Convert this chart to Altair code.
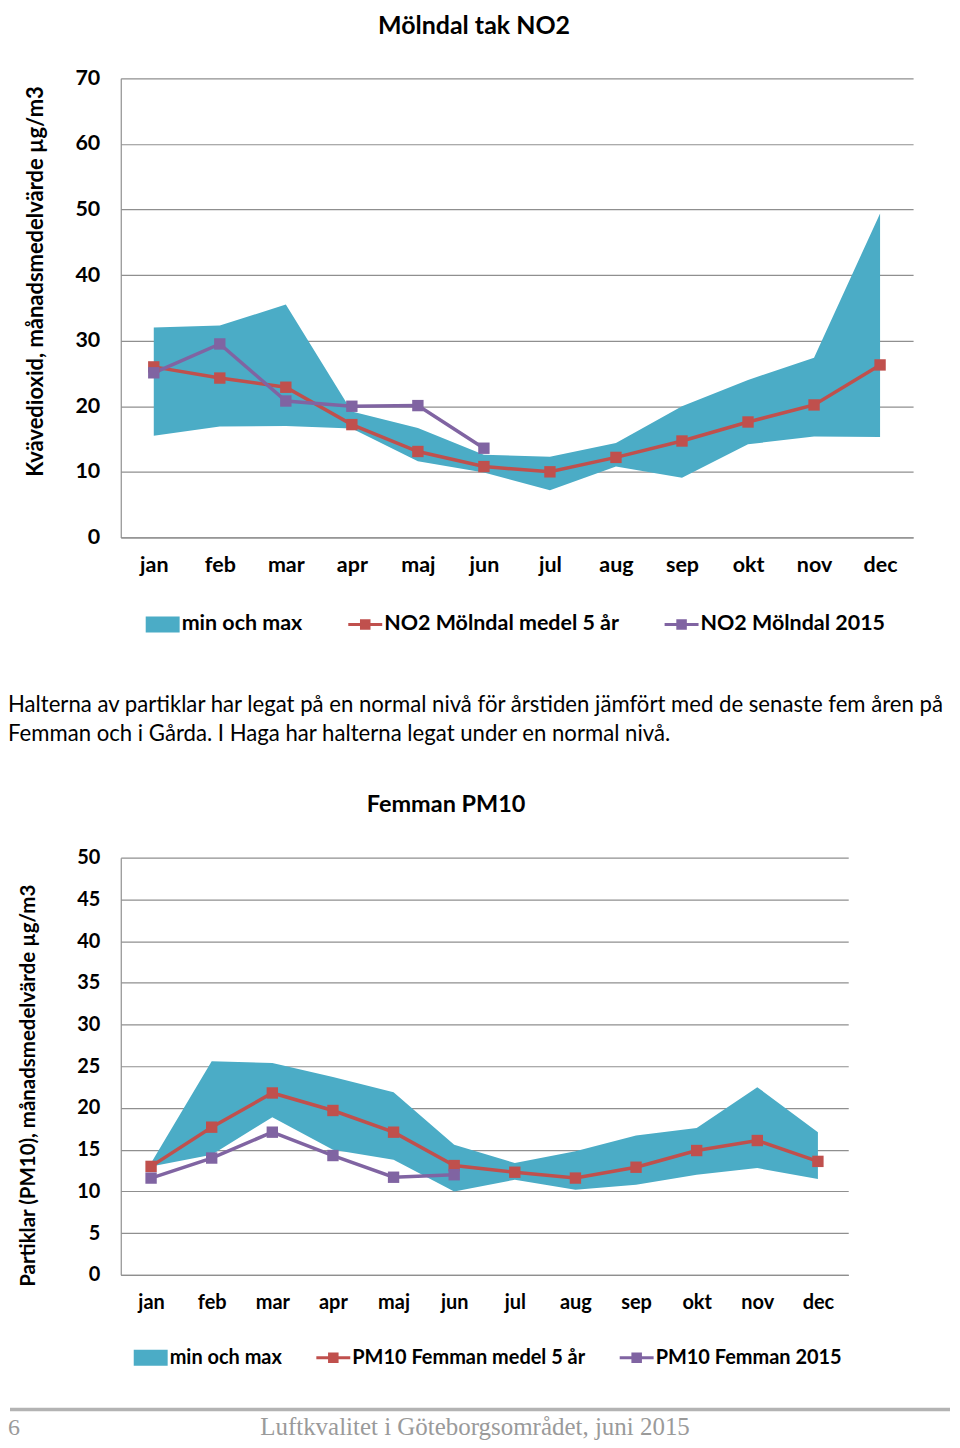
import altair as alt
import pandas as pd

months = ["jan", "feb", "mar", "apr", "maj", "jun", "jul", "aug", "sep", "okt", "nov", "dec"]

# Mölndal tak NO2
no2_min = [15.5, 16.9, 17.0, 16.6, 11.6, 9.9, 7.2, 10.8, 9.1, 14.2, 15.4, 15.3]
no2_max = [32.0, 32.3, 35.5, 19.2, 16.7, 12.6, 12.3, 14.4, 20.0, 24.0, 27.4, 49.4]
no2_mean = [26.0, 24.3, 22.9, 17.2, 13.1, 10.8, 10.0, 12.2, 14.7, 17.6, 20.2, 26.3]
no2_2015 = [25.1, 29.5, 20.8, 20.0, 20.1, 13.6]

# Femman PM10
pm_min = [13.0, 14.4, 18.9, 15.0, 13.8, 10.0, 11.4, 10.2, 10.8, 12.0, 12.8, 11.5]
pm_max = [13.4, 25.6, 25.4, 23.7, 21.9, 15.6, 13.4, 14.8, 16.7, 17.6, 22.5, 17.1]
pm_mean = [13.0, 17.7, 21.8, 19.7, 17.1, 13.1, 12.3, 11.6, 12.9, 14.9, 16.1, 13.6]
pm_2015 = [11.6, 14.0, 17.1, 14.3, 11.7, 12.0]

no2_names = ["min och max", "NO2 Mölndal medel 5 år", "NO2 Mölndal 2015"]
pm_names = ["min och max", "PM10 Femman medel 5 år", "PM10 Femman 2015"]

paragraph = [
    "Halterna av partiklar har legat på en normal nivå för årstiden jämfört med de senaste fem åren på",
    "Femman och i Gårda. I Haga har halterna legat under en normal nivå.",
]
footer_page = "6"
footer_text = "Luftkvalitet i Göteborgsområdet, juni 2015"

TEAL = "#4bacc6"
RED = "#c0504d"
PURPLE = "#8064a2"
GRID = "#8f8f8f"
SANS = "Lato"

AREA_SYM = "M-1,-0.47H1V0.47H-1Z"
LINE_SYM = "M-1,-0.09H1V0.09H-1Z M-0.31,-0.31H0.31V0.31H-0.31Z"


def panel(title, ytitle, mins, maxs, mean, y2015, names, ymax, ystep,
          width, height, fs, tfs, yfs, title_x, title_y, ytitle_x, ytitle_y,
          leg_x, leg_y, leg_pad, xlab_pad):
    area_df = pd.DataFrame({"month": months, "lo": mins, "hi": maxs})
    mean_df = pd.DataFrame({"month": months, "v": mean})
    cur_df = pd.DataFrame({"month": months[:len(y2015)], "v": y2015})
    leg_df = pd.DataFrame({"series": names})

    xenc = alt.X("month:N", sort=months,
                 scale=alt.Scale(type="point", padding=0.5, domain=months),
                 axis=alt.Axis(title=None, labelAngle=0, ticks=False, domain=True,
                               domainColor=GRID, domainWidth=1.2, grid=False,
                               labelFont=SANS, labelFontSize=fs, labelFontWeight="bold",
                               labelColor="#000000", labelPadding=xlab_pad))
    yaxis = alt.Axis(values=list(range(0, ymax + 1, ystep)), grid=True, gridColor=GRID,
                     gridWidth=1.2, domain=True, domainColor=GRID, domainWidth=1.2,
                     ticks=False, labelFont=SANS, labelFontSize=fs, labelFontWeight="bold",
                     labelColor="#000000", labelPadding=21,
                     title=ytitle, titleFont=SANS, titleFontSize=yfs, titleFontWeight="bold",
                     titleColor="#000000", titleAngle=270, titleAlign="center",
                     titleBaseline="middle", titleX=ytitle_x, titleY=ytitle_y,
                     titleLimit=0)
    yscale = alt.Scale(domain=[0, ymax], nice=False, zero=True)

    area = alt.Chart(area_df).mark_area(color=TEAL, opacity=1).encode(
        x=xenc, y=alt.Y("lo:Q", scale=yscale, axis=yaxis), y2="hi:Q")
    mean_line = alt.Chart(mean_df).mark_line(color=RED, strokeWidth=3.5).encode(
        x=xenc, y=alt.Y("v:Q", scale=yscale, axis=yaxis))
    mean_pts = alt.Chart(mean_df).mark_square(color=RED, size=130, opacity=1).encode(
        x=xenc, y=alt.Y("v:Q", scale=yscale, axis=yaxis))
    cur_line = alt.Chart(cur_df).mark_line(color=PURPLE, strokeWidth=3.5).encode(
        x=xenc, y=alt.Y("v:Q", scale=yscale, axis=yaxis))
    cur_pts = alt.Chart(cur_df).mark_square(color=PURPLE, size=130, opacity=1).encode(
        x=xenc, y=alt.Y("v:Q", scale=yscale, axis=yaxis))

    legend = alt.Legend(orient="none", legendX=leg_x, legendY=leg_y, direction="horizontal",
                        title=None, symbolSize=1156, symbolOpacity=1, symbolStrokeWidth=0,
                        labelFont=SANS, labelFontSize=fs, labelFontWeight="bold",
                        labelColor="#000000", labelOffset=2, columnPadding=leg_pad,
                        labelLimit=0, padding=0)
    leg = alt.Chart(leg_df).mark_point(filled=True, opacity=0).encode(
        x=alt.value(0), y=alt.value(0),
        color=alt.Color("series:N", sort=names,
                        scale=alt.Scale(domain=names, range=[TEAL, RED, PURPLE]),
                        legend=legend),
        shape=alt.Shape("series:N", sort=names,
                        scale=alt.Scale(domain=names, range=[AREA_SYM, LINE_SYM, LINE_SYM]),
                        legend=legend))

    ttl = alt.Chart(alt.Data(values=[{}])).mark_text(
        text=title, font=SANS, fontSize=tfs, fontWeight="bold", color="#000000",
        align="center", baseline="alphabetic").encode(
        x=alt.value(title_x), y=alt.value(title_y))

    return alt.layer(area, mean_line, cur_line, mean_pts, cur_pts, leg, ttl).properties(
        width=width, height=height)


c1 = panel("Mölndal tak NO2", "Kvävedioxid, månadsmedelvärde µg/m3",
           no2_min, no2_max, no2_mean, no2_2015, no2_names, 70, 10,
           794, 460, 21.5, 25, 22, 354, -44, -85, 203, 25, 530, 45, 17)

c2 = panel("Femman PM10", "Partiklar (PM10), månadsmedelvärde µg/m3",
           pm_min, pm_max, pm_mean, pm_2015, pm_names, 50, 5,
           729, 418, 20, 23.5, 20.5, 326, -46, -92, 228, 13, 484, 34, 18)

para = alt.Chart(alt.Data(values=[{}])).mark_text(
    text=paragraph, font=SANS, fontSize=22.2, color="#000000", align="left",
    baseline="alphabetic", lineHeight=29).encode(x=alt.value(-113), y=alt.value(-146))
rule = alt.Chart(alt.Data(values=[{}])).mark_rule(color="#b3b3b3", strokeWidth=3.5).encode(
    x=alt.value(-111), x2=alt.value(831), y=alt.value(553))
pg = alt.Chart(alt.Data(values=[{}])).mark_text(
    text=footer_page, font="Liberation Serif", fontSize=24, color="#9a9a9a", align="left",
    baseline="alphabetic").encode(x=alt.value(-113), y=alt.value(579))
ft = alt.Chart(alt.Data(values=[{}])).mark_text(
    text=footer_text, font="Liberation Serif", fontSize=25, color="#9a9a9a", align="center",
    baseline="alphabetic").encode(x=alt.value(355), y=alt.value(579))

c2 = alt.layer(c2, para, rule, pg, ft)

chart = alt.vconcat(c1, c2, spacing=321, bounds="flush").resolve_scale(
    x="independent", y="independent", color="independent", shape="independent"
).resolve_legend(color="independent", shape="independent").properties(
    padding={"left": 0, "top": 5, "right": 0, "bottom": 0}
).configure_view(strokeWidth=0)

chart.save("out.html", embed_options={"renderer": "svg", "actions": False})
